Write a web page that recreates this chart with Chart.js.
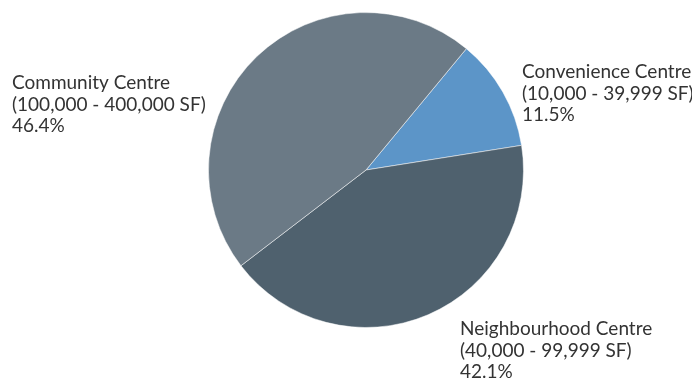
<!DOCTYPE html>
<html>
<head>
<meta charset="utf-8">
<script src="https://cdn.jsdelivr.net/npm/chart.js@4.4.1/dist/chart.umd.min.js"></script>
<style>
html,body{margin:0;padding:0;background:#fff;}
#wrap{width:692px;height:382px;position:relative;}
</style>
</head>
<body>
<div id="wrap"><canvas id="c" width="692" height="382"></canvas></div>
<script>
const categories = ["Convenience Centre", "Neighbourhood Centre", "Community Centre"];
const ranges = ["(10,000 - 39,999 SF)", "(40,000 - 99,999 SF)", "(100,000 - 400,000 SF)"];
const shares = [11.5, 42.1, 46.4];
const colors = ["#5c95c8", "#4f616e", "#6b7a86"];

// label anchor positions (text boxes outside the pie)
const labelPos = [
  {x: 522, y: 78, align: "left"},
  {x: 460, y: 335, align: "left"},
  {x: 12, y: 89, align: "left"}
];

const labelPlugin = {
  id: "outerLabels",
  afterDraw(chart) {
    const ctx = chart.ctx;
    ctx.save();
    ctx.fillStyle = "#333333";
    ctx.font = "19px Lato";
    ctx.textBaseline = "alphabetic";
    categories.forEach((cat, i) => {
      const p = labelPos[i];
      ctx.textAlign = p.align;
      const lines = [cat, ranges[i], shares[i].toFixed(1) + "%"];
      lines.forEach((t, k) => ctx.fillText(t, p.x, p.y + k * 21.5));
    });
    ctx.restore();
  }
};

new Chart(document.getElementById("c"), {
  type: "pie",
  data: {
    labels: categories,
    datasets: [{
      data: shares,
      backgroundColor: colors,
      borderColor: "rgba(255,255,255,0.5)",
      borderWidth: 1
    }]
  },
  options: {
    responsive: false,
    animation: false,
    rotation: 39.6,
    layout: {padding: {top: 12, bottom: 54, left: 40, right: 0}},
    plugins: {legend: {display: false}, tooltip: {enabled: false}}
  },
  plugins: [labelPlugin]
});
</script>
</body>
</html>
